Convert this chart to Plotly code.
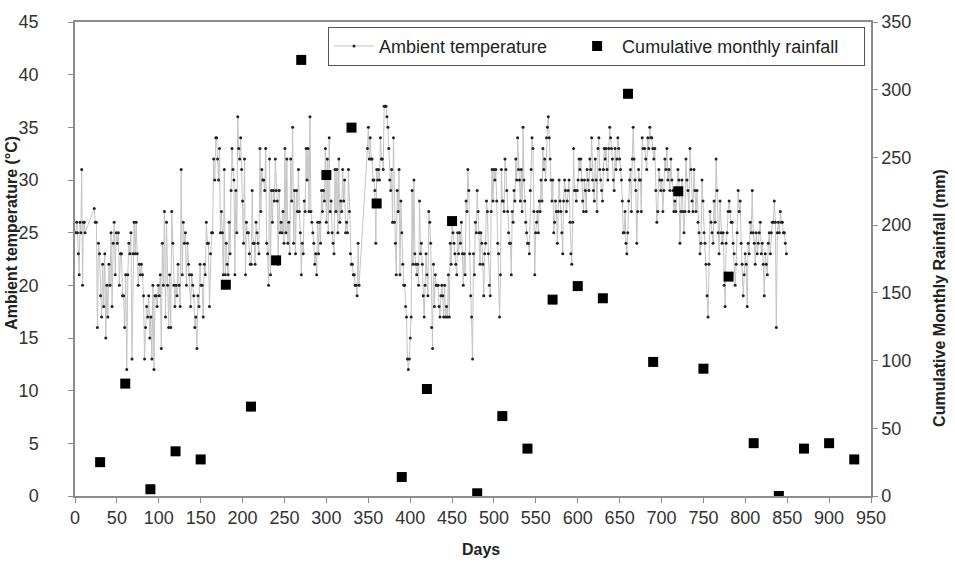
import numpy as np
import plotly.graph_objects as go

# Cumulative monthly rainfall (mm), one value every 30 days
rain_days = [30, 60, 90, 120, 150, 180, 210, 240, 270, 300, 330, 360, 390, 420, 450, 480,
             510, 540, 570, 600, 630, 660, 690, 720, 750, 780, 810, 840, 870, 900, 930]
rain_mm = [25, 83, 5, 33, 27, 156, 66, 174, 322, 237, 272, 216, 14, 79, 203, 2,
           59, 35, 145, 155, 146, 297, 99, 225, 94, 162, 39, 0, 35, 39, 27]

# Ambient temperature (°C), daily readings grouped by day spans
seg_start = [1, 23, 169, 349, 511, 680]
seg_end = [12, 168, 339, 510, 678, 849]

temp_a = [25, 26, 25, 23, 21, 26, 25, 31, 20, 26, 26, 25]
temp_b = [27.3, 26, 26, 16, 24, 23, 19, 17, 22, 18, 23, 15, 20, 17, 22, 20, 25, 18, 24, 26, 21, 25,
          24, 25, 20, 23, 23, 19, 19, 16, 21, 12, 21, 24, 23, 25, 13, 23, 26, 23, 26, 23, 20, 22,
          21, 22, 21, 19, 13, 16, 18, 17, 19, 15, 17, 13, 20, 12, 19, 19, 18, 20, 19, 21, 14, 24,
          20, 27, 17, 26, 20, 16, 21, 16, 27, 24, 20, 18, 20, 19, 22, 20, 18, 31, 21, 26, 24, 25,
          20, 24, 22, 21, 18, 21, 20, 19, 16, 17, 14, 19, 18, 22, 20, 20, 17, 22, 21, 26, 24, 24,
          18, 23, 25, 25, 32, 30, 34]
temp_c = [34, 32, 30, 33, 25, 27, 25, 21, 31, 21, 24, 22, 21, 26, 23, 29, 33, 31, 30, 21, 29, 25,
          36, 33, 32, 34, 31, 28, 24, 32, 21, 26, 25, 25, 23, 22, 22, 29, 24, 24, 22, 26, 25, 24,
          23, 33, 27, 31, 30, 30, 29, 33, 24, 23, 20, 32, 21, 29, 26, 29, 28, 32, 29, 28, 22, 29,
          25, 26, 25, 27, 24, 33, 25, 32, 24, 26, 23, 32, 28, 35, 24, 29, 23, 29, 27, 31, 27, 25,
          21, 24, 23, 28, 27, 33, 30, 33, 27, 36, 27, 26, 25, 24, 22, 23, 21, 26, 23, 26, 24, 29,
          27, 29, 28, 33, 26, 32, 25, 34, 27, 28, 25, 24, 23, 31, 27, 31, 25, 32, 26, 28, 27, 31,
          28, 30, 25, 26, 25, 31, 27, 23, 22, 22, 21, 21, 20, 20, 19, 24, 20]
temp_d = [33, 35, 32, 34, 32, 32, 30, 30, 29, 24, 31, 30, 31, 30, 34, 32, 32, 31, 37, 37, 37, 36,
          35, 33, 30, 29, 31, 26, 34, 26, 24, 21, 29, 27, 31, 21, 28, 25, 22, 20, 20, 18, 17, 13,
          12, 13, 15, 17, 29, 22, 30, 23, 22, 21, 22, 20, 28, 23, 24, 22, 19, 17, 20, 23, 21, 19,
          27, 26, 24, 16, 14, 22, 18, 21, 20, 20, 20, 18, 17, 19, 20, 19, 17, 20, 17, 18, 17, 21,
          17, 24, 22, 26, 25, 24, 23, 22, 21, 25, 23, 25, 24, 26, 23, 20, 23, 21, 28, 27, 31, 29,
          23, 19, 17, 13, 23, 21, 26, 25, 29, 27, 25, 22, 25, 24, 22, 19, 23, 24, 28, 27, 23, 20,
          19, 27, 31, 28, 31, 30, 31, 28, 24, 23, 17, 21, 31, 28]
temp_e = [28, 27, 32, 31, 29, 27, 25, 24, 24, 21, 27, 26, 29, 28, 32, 30, 34, 31, 30, 28, 31, 27,
          35, 30, 28, 26, 25, 24, 24, 23, 29, 31, 34, 33, 27, 21, 25, 26, 27, 25, 28, 27, 30, 28,
          33, 31, 32, 30, 34, 35, 36, 34, 32, 30, 28, 30, 25, 26, 28, 27, 24, 27, 30, 28, 27, 25,
          23, 28, 30, 29, 27, 28, 29, 30, 26, 23, 22, 26, 33, 29, 29, 28, 29, 30, 32, 31, 32, 30,
          28, 27, 30, 29, 27, 31, 30, 29, 32, 31, 34, 30, 29, 28, 32, 30, 27, 33, 34, 31, 30, 29,
          28, 31, 33, 32, 33, 31, 30, 33, 35, 34, 33, 32, 30, 29, 33, 31, 32, 34, 33, 32, 31, 30,
          28, 25, 25, 27, 24, 23, 25, 28, 30, 31, 27, 32, 35, 32, 30, 29, 24, 27, 31, 30, 30, 27,
          34, 33]
temp_f = [33, 32, 31, 34, 33, 35, 34, 34, 33, 32, 33, 29, 26, 27, 31, 30, 29, 30, 27, 29, 32, 31,
          33, 30, 31, 29, 32, 30, 29, 27, 28, 27, 29, 31, 30, 24, 27, 30, 27, 25, 27, 32, 30, 29,
          27, 33, 31, 28, 27, 31, 29, 27, 29, 26, 25, 23, 24, 30, 28, 25, 24, 22, 19, 17, 22, 27,
          26, 25, 24, 28, 26, 32, 29, 25, 23, 28, 25, 24, 25, 20, 18, 24, 25, 27, 28, 27, 26, 26,
          24, 23, 20, 22, 25, 29, 27, 28, 24, 22, 19, 21, 23, 22, 18, 24, 23, 26, 25, 29, 25, 24,
          22, 25, 23, 24, 25, 26, 23, 24, 22, 19, 23, 22, 21, 24, 25, 23, 25, 26, 26, 28, 26, 16,
          25, 26, 25, 27, 26, 26, 25, 25, 24, 23]

segments = [temp_a, temp_b, temp_c, temp_d, temp_e, temp_f]
temp_days, temp_vals = [], []
for s, e, vals in zip(seg_start, seg_end, segments):
    temp_days.extend(np.linspace(s, e, len(vals)).tolist())
    temp_vals.extend(vals)

FONT = "Liberation Sans, Arial, sans-serif"
AX = "#8c8c8c"
TXT = "#222222"
NB = "\u00a0"

fig = go.Figure()
fig.add_trace(go.Scatter(
    x=temp_days, y=temp_vals, mode="lines+markers",
    name="Ambient temperature" + NB * 4,
    line=dict(color="#c4c4c4", width=1),
    marker=dict(color="#222222", size=3, symbol="circle"),
))
fig.add_trace(go.Scatter(
    x=rain_days, y=rain_mm, mode="markers", name="Cumulative monthly rainfall" + NB * 4,
    marker=dict(color="black", size=10, symbol="square"), yaxis="y2",
))

tickfont = dict(family=FONT, size=18, color="#333333")
titlefont = dict(family=FONT, size=16, color=TXT)
fig.update_layout(
    width=955, height=565,
    margin=dict(l=75, r=84, t=15, b=69),
    paper_bgcolor="white", plot_bgcolor="white",
    showlegend=True,
    legend=dict(orientation="h", x=0.9925, xanchor="right", y=0.99, yanchor="top",
                bgcolor="white", bordercolor="#555555", borderwidth=1,
                font=dict(family=FONT, size=18, color=TXT),
                itemwidth=40, tracegroupgap=0),
    xaxis=dict(range=[0, 950], tickvals=list(range(0, 951, 50)), showgrid=False, zeroline=False,
               showline=True, linecolor=AX, linewidth=1.5, mirror=True,
               ticks="outside", ticklen=5, tickcolor=AX, tickfont=tickfont),
    yaxis=dict(range=[0, 45], tickvals=list(range(0, 46, 5)), showgrid=False, zeroline=False,
               showline=True, linecolor=AX, linewidth=1.5,
               ticks="outside", ticklen=5, tickcolor=AX, tickfont=tickfont,
               ticklabelstandoff=26),
    yaxis2=dict(range=[0, 350], tickvals=list(range(0, 351, 50)), overlaying="y", side="right",
                showgrid=False, zeroline=False, showline=True, linecolor=AX, linewidth=1.5,
                ticks="outside", ticklen=5, tickcolor=AX, tickfont=tickfont),
    annotations=[
        dict(text="<b>Days</b>", xref="paper", yref="paper", x=0.51, y=-0.112,
             xanchor="center", yanchor="middle", showarrow=False, font=titlefont),
        dict(text="<b>Ambient temperature (°C)</b>", xref="paper", yref="paper",
             x=-0.0792, y=0.555, xanchor="center", yanchor="middle", textangle=-90,
             showarrow=False, font=titlefont),
        dict(text="<b>Cumulative Monthly Rainfall (mm)</b>", xref="paper", yref="paper",
             x=1.0867, y=0.418, xanchor="center", yanchor="middle", textangle=-90,
             showarrow=False, font=titlefont),
    ],
)

fig.write_html("out.html")
